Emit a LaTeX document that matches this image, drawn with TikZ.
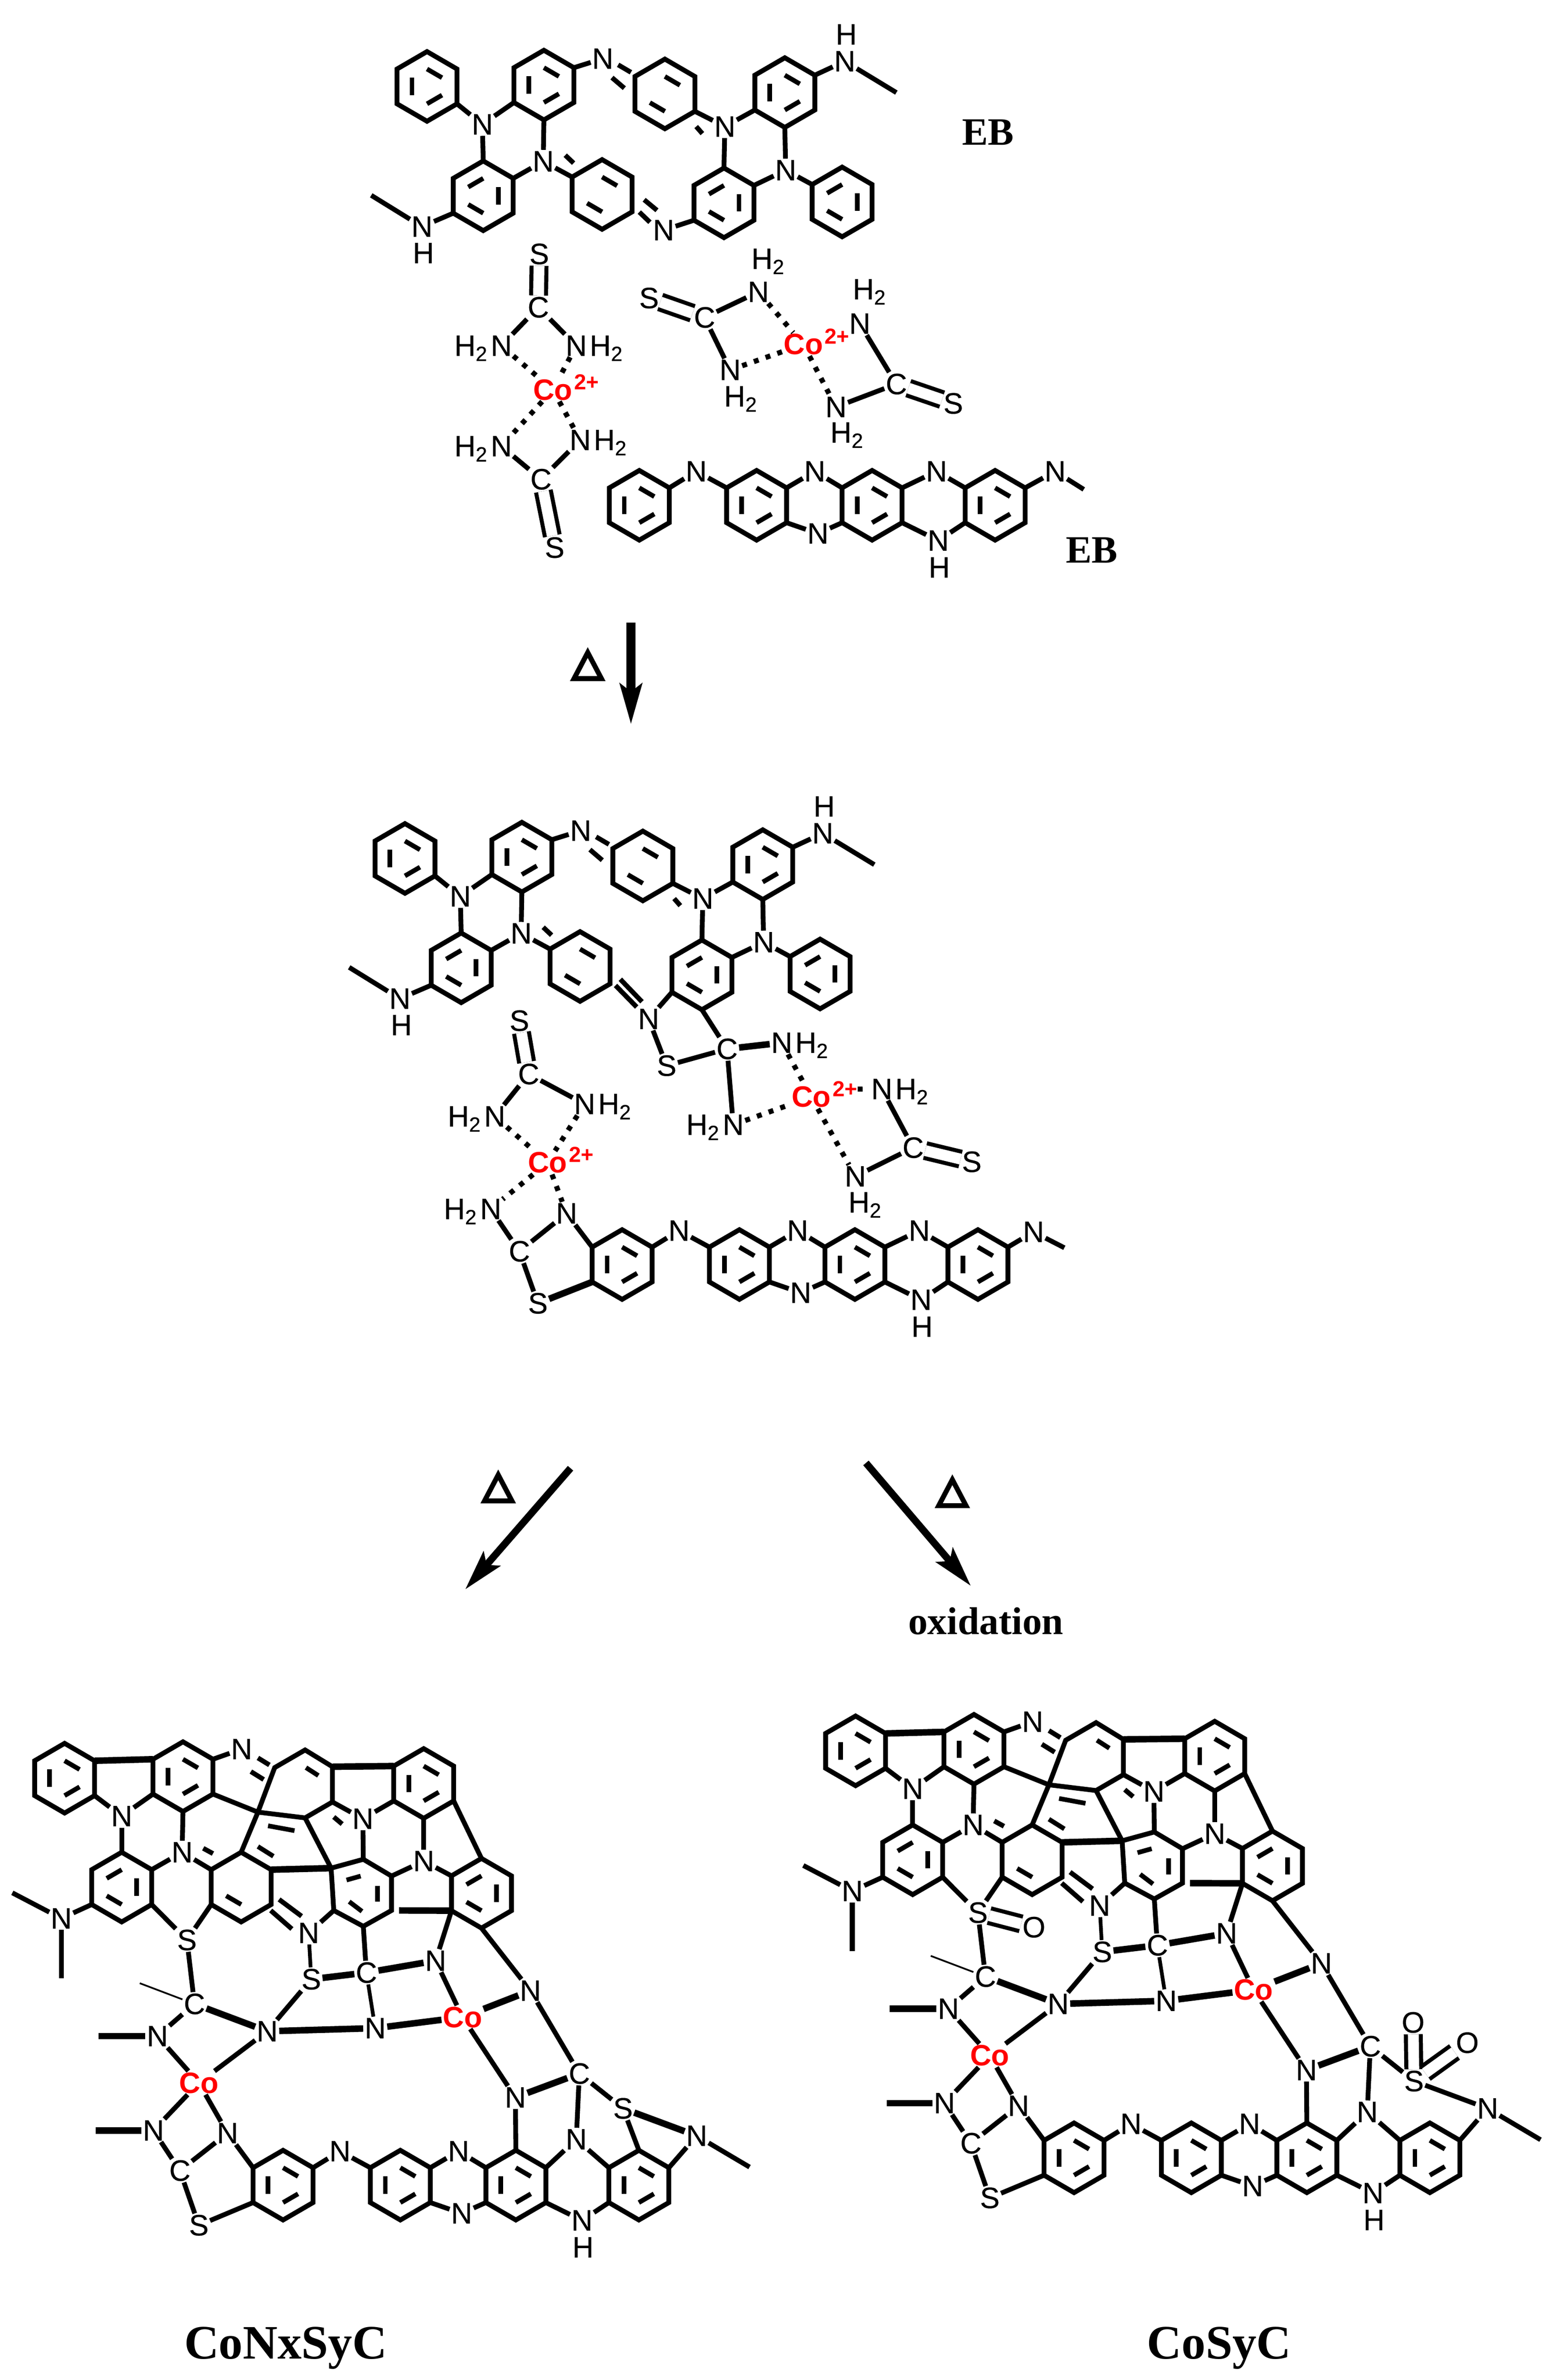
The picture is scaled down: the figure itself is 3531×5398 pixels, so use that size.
\documentclass[tikz,border=0pt]{standalone}
\usepackage{fontspec}
\setmainfont{Liberation Sans}
\newfontfamily\atomfont[FakeBold=0.4]{Liberation Sans}
\newfontfamily\titlefont{Liberation Serif}
\usetikzlibrary{arrows.meta}
\usetikzlibrary{calc,positioning}

\tikzset{
    bond/.style={line width=3.1pt},
    inbond/.style={line width=3pt},
    boldbond/.style={line width=4.2pt},
    finebond/.style={line width=2.4pt},
    hairbond/.style={line width=1.1pt},
    dblbond/.style={line width=2.6pt, double, double distance=7pt},
    hbond/.style={line width=3.3pt, dash pattern=on 3.2pt off 4.8pt},
    atom/.style={font=\atomfont\fontsize{19}{19}\selectfont, inner sep=0.7pt},
    hyd/.style={atom, anchor=base west},
    metal/.style={atom, red, font=\rmfamily\fontsize{19}{19}\selectfont\bfseries},
    charge/.style={red, font=\rmfamily\fontsize{14}{14}\selectfont\bfseries, inner sep=0pt, anchor=south west},
    caption/.style={font=\titlefont\bfseries\fontsize{25}{25}\selectfont, inner sep=0pt},
    product/.style={font=\titlefont\bfseries\fontsize{31}{31}\selectfont, inner sep=0pt, anchor=base},
    reaction/.style={-{Stealth[length=26pt,width=14pt,inset=5pt]}, line width=4.6pt},
}

\newcommand{\Hii}{H\textsubscript{2}}

% ring with its double bonds: name, x, y, edges
\newcommand{\ringat}[4]{%
    \coordinate (#1) at (#2,#3);
    \foreach \k/\dx/\dy in {1/0/-79,2/68/-39.5,3/68/39.5,4/0/79,5/-68/39.5,6/-68/-39.5}
        {\coordinate (#1-\k) at (#2+\dx,#3+\dy);}
    \draw[bond] (#1-1) -- (#1-2) -- (#1-3) -- (#1-4) -- (#1-5) -- (#1-6) -- cycle;
    \foreach \e in {#4} {
        \pgfmathtruncatemacro{\f}{mod(\e,6)+1}
        \draw[inbond] ($(#1)!0.5!(#1-\e)$) -- ($(#1)!0.5!(#1-\f)$);
    }
}

\newcommand{\heatmark}[2]{%
    \draw[line width=3.2pt] (#1,#2+17) -- (#1-31,#2+76) -- (#1+31,#2+76) -- cycle;
}

% the upper chain of eight rings
\newcommand{\ebchain}{%
    \ringat{A}{968.5}{196}{1,3,5}
    \ringat{B}{1233.6}{193}{1,3,5}
    \ringat{C}{1508}{213}{1,4}
    \ringat{D}{1780}{210}{1,3,5}
    \ringat{E}{1096}{444}{2,4,6}
    \ringat{F}{1365.6}{441}{1,4}
    \ringat{G}{1642}{460}{2,4,6}
    \ringat{H}{1910}{458}{2,4,6}

    \node[atom] (na) at (1094,282) {N};
    \node[atom] (nb) at (1232,366) {N};
    \node[atom] (nc) at (1367,133) {N};
    \node[atom] (nd) at (1644,287) {N};
    \node[atom] (ne) at (1782,386) {N};
    \node[atom] (nf) at (1916,139) {N};
    \node[hyd] (hf) at (1892,101) {H};
    \node[atom] (ng) at (957,514) {N};
    \node[hyd] (hg) at (933,597) {H};
    \coordinate (endf) at (2033,210);
    \coordinate (endg) at (842,443);

    \draw[bond] (A-3) -- (na);
    \draw[bond] (B-5) -- (na);
    \draw[bond] (na) -- (E-1);
    \draw[bond] (B-4) -- (nb);
    \draw[bond] (E-2) -- (nb);
    \draw[bond] (nb) -- (F-6);
    \draw[bond] (1282,352) -- (1301,370);
    \draw[bond] (B-2) -- (nc);
    \draw[bond] (1402,147) -- (1431,164);
    \draw[bond] (1388,176) -- (1416,200);
    \draw[bond] (C-3) -- (nd);
    \draw[bond] (1579,287) -- (1593,303);
    \draw[bond] (nd) -- (D-5);
    \draw[bond] (nd) -- (G-1);
    \draw[bond] (D-4) -- (ne);
    \draw[bond] (G-2) -- (ne);
    \draw[bond] (ne) -- (H-6);
    \draw[bond] (D-2) -- (nf);
    \draw[bond] (nf) -- (endf);
    \draw[bond] (E-5) -- (ng);
    \draw[bond] (ng) -- (endg);
}

% the lower chain of four rings: shift of its third N
\newcommand{\phenchain}[2]{%
    \ringat{r1}{1450}{1146}{1,3,5}
    \ringat{r2}{1716}{1146}{1,3,5}
    \ringat{r3}{1978}{1146}{1,3,5}
    \ringat{r4}{2257}{1146}{1,3,5}

    \node[atom] (n1) at (1579,1069) {N};
    \node[atom] (n2) at (1848,1069) {N};
    \node[atom] (n3) at (2124+#1,1069+#2) {N};
    \node[atom] (n4) at (1855,1210) {N};
    \node[atom] (n6) at (2128,1226) {N};
    \node[hyd] (h6) at (2103,1310) {H};

    \draw[bond] (r1-2) -- (n1);
    \draw[bond] (n1) -- (r2-6);
    \draw[bond] (r2-2) -- (n2);
    \draw[bond] (n2) -- (r3-6);
    \draw[bond] (r3-2) -- (n3);
    \draw[bond] (n3) -- (r4-6);
    \draw[bond] (r2-3) -- (n4);
    \draw[bond] (n4) -- (r3-5);
    \draw[bond] (r3-3) -- (n6);
    \draw[bond] (n6) -- (r4-5);
}

% the network shared by both products
\newcommand{\netcore}{%
    \ringat{a}{146.5}{4033}{1,3,5}
    \ringat{b}{415}{4029.5}{1,3,5}
    \ringat{d}{961}{4045}{1,3,5}
    \ringat{e}{276}{4280}{2,4,6}
    \ringat{f}{547}{4280}{4}
    \ringat{i}{1092}{4294}{2,4,6}

    \coordinate (c1) at (692,3969);
    \coordinate (c2) at (754,4007);
    \coordinate (c3) at (754,4087);
    \coordinate (c4) at (692,4123);
    \coordinate (c5) at (585,4110);
    \coordinate (c6) at (623,4009);
    \draw[bond] (c1) -- (c2) -- (c3) -- (c4) -- (c5) -- (c6) -- cycle;
    \draw[inbond] (694,4009) -- (722,4027);
    \draw[inbond] (608,4141) -- (668,4152);
    \draw[inbond] (585,4188) -- (620,4210);

    \coordinate (g3) at (751,4237);
    \coordinate (h1) at (824,4217);
    \coordinate (h2) at (888,4255);
    \coordinate (h3) at (888,4333);
    \coordinate (h4) at (824,4369);
    \coordinate (h5) at (757,4333);
    \draw[bond] (g3) -- (h1) -- (h2) -- (h3) -- (h4) -- (h5) -- cycle;
    \draw[inbond] (786,4264) -- (818,4255);
    \draw[inbond] (856,4277) -- (856,4313);
    \draw[inbond] (792,4313) -- (821,4335);

    \draw[boldbond] (a-2) -- (b-6);
    \draw[boldbond] (c2) -- (d-6);
    \draw[bond] (b-3) -- (c5);
    \draw[bond] (c5) -- (f-1);
    \draw[bond] (c4) -- (g3);
    \draw[boldbond] (g3) -- (f-2);
    \draw[bond] (d-3) -- (i-1);
    \draw[boldbond] (905,4333) -- (i-5);

    \node[atom] (na) at (276,4119) {N};
    \node[atom] (nb) at (413,4201) {N};
    \node[atom] (nc) at (548,3967) {N};
    \node[atom] (nd) at (823,4125) {N};
    \node[atom] (ne) at (961,4221) {N};
    \node[atom] (nf) at (139,4351) {N};
    \node[atom] (sa) at (424,4400) {S};
    \node[atom] (ng) at (700,4384) {N};
    \node[atom] (sb) at (706,4489) {S};
    \node[atom] (ca) at (831,4474) {C};
    \node[atom] (nh) at (988,4447) {N};
    \node[atom] (cb) at (441,4545) {C};
    \node[atom] (ni) at (357,4618) {N};
    \node[atom] (nj) at (606,4607) {N};
    \node[atom] (nk) at (851,4600) {N};
    \node[metal] (coa) at (1049,4575) {Co};
    \node[atom] (nl) at (1203,4515) {N};
    \node[atom] (cc) at (1314,4703) {C};
    \node[atom] (nm) at (1169,4757) {N};
    \node[atom] (sc) at (1413,4782) {S};
    \node[atom] (no) at (1580,4844) {N};
    \node[metal] (cob) at (451,4724) {Co};
    \node[atom] (np) at (348,4832) {N};
    \node[atom] (nq) at (516,4838) {N};
    \node[atom] (cd) at (408,4923) {C};
    \node[atom] (se) at (451,5047) {S};

    \coordinate (endfa) at (28,4293);
    \coordinate (endfb) at (139,4487);
    \coordinate (endc) at (317,4498);
    \coordinate (endi) at (224,4618);
    \coordinate (endp) at (217,4832);
    \coordinate (endo) at (1700,4915);

    \begin{scope}[shift={(-808,3810)}]
        \phenchain{-9}{-27}
    \end{scope}

    \draw[bond] (a-3) -- (na);
    \draw[bond] (b-5) -- (na);
    \draw[bond] (na) -- (e-1);
    \draw[bond] (b-4) -- (nb);
    \draw[bond] (e-2) -- (nb);
    \draw[bond] (nb) -- (f-6);
    \draw[bond] (461,4192) -- (483,4204);
    \draw[bond] (b-2) -- (nc);
    \draw[bond] (585,3987) -- (611,4003);
    \draw[bond] (569,4018) -- (598,4036);
    \draw[bond] (c3) -- (nd);
    \draw[bond] (757,4121) -- (776,4137);
    \draw[bond] (nd) -- (d-5);
    \draw[bond] (nd) -- (h1);
    \draw[bond] (d-4) -- (ne);
    \draw[bond] (h2) -- (ne);
    \draw[bond] (ne) -- (i-6);
    \draw[bond] (e-5) -- (nf);
    \draw[bond] (nf) -- (endfa);
    \draw[bond] (nf) -- (endfb);
    \draw[bond] (e-3) -- (sa);
    \draw[bond] (f-5) -- (sa);
    \draw[bond] (633,4308) -- (684,4346);
    \draw[bond] (614,4333) -- (662,4375);
    \draw[bond] (h5) -- (ng);
    \draw[finebond] (ng) -- (sb);
    \draw[bond] (h4) -- (ca);
    \draw[boldbond] (sb) -- (ca);
    \draw[boldbond] (ca) -- (nh);
    \draw[bond] (i-5) -- (nh);
    \draw[bond] (sa) -- (cb);
    \draw[hairbond] (endc) -- (cb);
    \draw[bond] (cb) -- (ni);
    \draw[boldbond] (ni) -- (endi);
    \draw[boldbond] (cb) -- (nj);
    \draw[bond] (sb) -- (nj);
    \draw[boldbond] (nj) -- (nk);
    \draw[finebond] (ca) -- (nk);
    \draw[boldbond] (nk) -- (coa);
    \draw[bond] (nh) -- (coa);
    \draw[boldbond] (coa) -- (nl);
    \draw[bond] (i-4) -- (nl);
    \draw[bond] (nl) -- (cc);
    \draw[bond] (coa) -- (nm);
    \draw[boldbond] (nm) -- (cc);
    \draw[bond] (nm) -- (r3-1);
    \draw[bond] (cc) -- (sc);
    \draw[bond] (cc) -- (n3);
    \draw[bond] (no) -- (r4-2);
    \draw[bond] (no) -- (endo);
    \draw[bond] (ni) -- (cob);
    \draw[bond] (nj) -- (cob);
    \draw[bond] (cob) -- (np);
    \draw[boldbond] (np) -- (endp);
    \draw[bond] (cob) -- (nq);
    \draw[bond] (np) -- (cd);
    \draw[bond] (nq) -- (cd);
    \draw[bond] (cd) -- (se);
    \draw[bond] (se) -- (r1-5);
    \draw[bond] (nq) -- (r1-6);
}

\begin{document}
\begin{tikzpicture}[x=0.01cm, y=-0.01cm]

    \useasboundingbox (0,0) rectangle (3531,5398);

    % starting material
    \begin{scope}[name prefix=p-]
        \ebchain
        \node[atom] (ni) at (1505,522) {N};
        \draw[bond] (G-5) -- (ni);
        \draw[bond] (1450,481) -- (1474,504);
        \draw[bond] (1461,453) -- (1490,477);
        \node[caption] (eb) at (2241,300) {EB};
    \end{scope}

    \begin{scope}[name prefix=s-]
        \phenchain{0}{0}
        \node[atom] (n5) at (2393,1069) {N};
        \coordinate (end5) at (2458,1110);
        \draw[bond] (r4-2) -- (n5);
        \draw[bond] (n5) -- (end5);
        \node[caption] (eb) at (2476,1248) {EB};
    \end{scope}

    % thiourea around the first cobalt
    \node[atom] (sa) at (1223,576) {S};
    \node[atom] (ca) at (1221,697) {C};
    \node[atom] (na) at (1137,784) {N};
    \node[atom, base left=0pt of na] (ha) {\Hii};
    \node[atom] (nb) at (1307,784) {N};
    \node[atom, base right=0pt of nb] (hb) {\Hii};
    \node[metal] (coa) at (1254,884) {Co};
    \node[charge] (qa) at (coa.east) {2+};
    \node[atom] (nc) at (1137,1012) {N};
    \node[atom, base left=0pt of nc] (hc) {\Hii};
    \node[atom] (nd) at (1316,998) {N};
    \node[atom, base right=0pt of nd] (hd) {\Hii};
    \node[atom] (cb) at (1227,1087) {C};
    \node[atom] (sb) at (1258,1242) {S};

    \draw[dblbond] (sa) -- (ca);
    \draw[bond] (ca) -- (na);
    \draw[bond] (ca) -- (nb);
    \draw[hbond] (na) -- (coa);
    \draw[hbond] (nb) -- (coa);
    \draw[hbond] (coa) -- (nc);
    \draw[hbond] (coa) -- (nd);
    \draw[bond] (nc) -- (cb);
    \draw[bond] (nd) -- (cb);
    \draw[dblbond] (cb) -- (sb);

    % thiourea around the second cobalt
    \node[atom] (se) at (1472,676) {S};
    \node[atom] (ce) at (1598,720) {C};
    \node[atom] (ne) at (1720,662) {N};
    \node[hyd] (he) at (1701,610) {\Hii};
    \node[atom] (nf) at (1656,839) {N};
    \node[hyd] (hf) at (1639,922) {\Hii};
    \node[metal] (cob) at (1822,781) {Co};
    \node[charge] (qb) at (cob.east) {2+};
    \node[atom] (ng) at (1950,734) {N};
    \node[hyd] (hg) at (1931,679) {\Hii};
    \node[atom] (cf) at (2033,871) {C};
    \node[atom] (sf) at (2162,915) {S};
    \node[atom] (nh) at (1896,923) {N};
    \node[hyd] (hh) at (1880,1004) {\Hii};

    \draw[dblbond] (se) -- (ce);
    \draw[bond] (ce) -- (ne);
    \draw[bond] (ce) -- (nf);
    \draw[hbond] (ne) -- (cob);
    \draw[hbond] (nf) -- (cob);
    \draw[hbond] (cob) -- (nh);
    \draw[bond] (ng) -- (cf);
    \draw[bond] (cf) -- (nh);
    \draw[dblbond] (cf) -- (sf);

    % first step
    \coordinate (arrowa) at (1431,1412);
    \coordinate (arrowb) at (1431,1643);
    \draw[reaction, line width=5.6pt] (arrowa) -- (arrowb);
    \heatmark{1333}{1463}

    % intermediate
    \begin{scope}[name prefix=q-]
        \begin{scope}[shift={(-50,1751)}]
            \ebchain
        \end{scope}
        \node[atom] (ni) at (1471,2311) {N};
        \node[atom] (si) at (1512,2417) {S};
        \node[atom] (ci) at (1649,2379) {C};
        \node[atom] (nj) at (1773,2365) {N};
        \node[atom, base right=0pt of nj] (hj) {\Hii};
        \node[atom] (nk) at (1663,2551) {N};
        \node[atom, base left=0pt of nk] (hk) {\Hii};
        \node[metal] (coc) at (1840,2488) {Co};
        \node[charge] (qc) at (coc.east) {2+};
        \node[atom] (nl) at (2000,2470) {N};
        \node[atom, base right=0pt of nl] (hl) {\Hii};
        \node[atom] (cl) at (2071,2603) {C};
        \node[atom] (sl) at (2204,2635) {S};
        \node[atom] (nm) at (1940,2668) {N};
        \node[hyd] (hm) at (1921,2750) {\Hii};

        \draw[bond] (1396,2235) -- (1444,2284);
        \draw[bond] (1407,2221) -- (1456,2272);
        \draw[bond] (G-5) -- (ni);
        \draw[bond] (ni) -- (si);
        \draw[bond] (si) -- (ci);
        \draw[bond] (G-4) -- (ci);
        \draw[boldbond] (ci) -- (nj);
        \draw[bond] (ci) -- (nk);
        \draw[hbond] (nj) -- (coc);
        \draw[hbond] (nk) -- (coc);
        \draw[hbond] (qc) -- (nl);
        \draw[bond] (nl) -- (cl);
        \draw[bond] (cl) -- (nm);
        \draw[hbond] (coc) -- (nm);
        \draw[dblbond] (cl) -- (sl);

        \node[atom] (so) at (1178,2315) {S};
        \node[atom] (co) at (1199,2436) {C};
        \node[atom] (no) at (1122,2532) {N};
        \node[atom, base left=0pt of no] (ho) {\Hii};
        \node[atom] (np) at (1326,2504) {N};
        \node[atom, base right=0pt of np] (hp) {\Hii};
        \node[metal] (cod) at (1242,2637) {Co};
        \node[charge] (qd) at (cod.east) {2+};
        \node[atom] (nq) at (1113,2742) {N};
        \node[atom, base left=0pt of nq] (hq) {\Hii};
        \node[atom] (nr) at (1285,2752) {N};
        \node[atom] (cr) at (1178,2838) {C};
        \node[atom] (sr) at (1220,2956) {S};

        \draw[dblbond] (so) -- (co);
        \draw[bond] (co) -- (no);
        \draw[bond] (co) -- (np);
        \draw[hbond] (no) -- (cod);
        \draw[hbond] (np) -- (cod);
        \draw[hbond] (cod) -- (nq);
        \draw[hbond] (cod) -- (nr);
        \draw[bond] (nq) -- (cr);
        \draw[bond] (nr) -- (cr);
        \draw[bond] (cr) -- (sr);

        \begin{scope}[shift={(-39,1722)}]
            \phenchain{0}{0}
            \node[atom] (n5) at (2383,1072) {N};
            \coordinate (end5) at (2453,1108);
            \draw[bond] (r4-2) -- (n5);
            \draw[bond] (n5) -- (end5);
        \end{scope}
        \draw[bond] (nr) -- (r1-6);
        \draw[boldbond] (sr) -- (r1-5);
    \end{scope}

    % second step
    \coordinate (arrowc) at (1294,3330);
    \coordinate (arrowd) at (1055,3605);
    \coordinate (arrowe) at (1964,3318);
    \coordinate (arrowf) at (2202,3597);
    \draw[reaction] (arrowc) -- (arrowd);
    \draw[reaction] (arrowe) -- (arrowf);
    \heatmark{1130}{3328}
    \heatmark{2160}{3339}
    \node[caption, anchor=base] (oxi) at (2236,3707) {oxidation};

    % products
    \begin{scope}[name prefix=L-]
        \netcore
        \draw[boldbond] (sc) -- (no);
        \draw[bond] (sc) -- (r4-1);
    \end{scope}

    \begin{scope}[shift={(1794,-62)}, name prefix=R-]
        \netcore
        \node[atom] (oa) at (551,4433) {O};
        \node[atom] (ob) at (1411,4649) {O};
        \node[atom] (oc) at (1534,4695) {O};
        \draw[dblbond] (sa) -- (oa);
        \draw[dblbond] (sc) -- (ob);
        \draw[dblbond] (sc) -- (oc);
        \draw[bond] (sc) -- (no);
    \end{scope}

    \node[product] (prodl) at (648,5350) {CoNxSyC};
    \node[product] (prodr) at (2765,5350) {CoSyC};

\end{tikzpicture}
\end{document}
